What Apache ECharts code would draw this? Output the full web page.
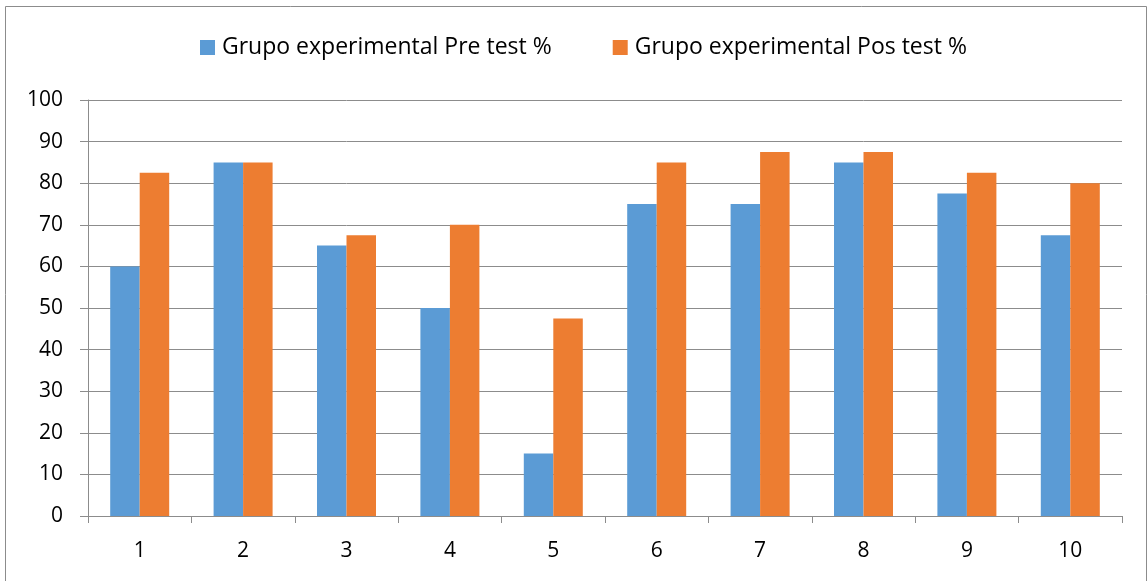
<!DOCTYPE html>
<html>
<head>
<meta charset="utf-8">
<script src="https://cdn.jsdelivr.net/npm/echarts@6/dist/echarts.min.js"></script>
<style>
  html, body { margin: 0; padding: 0; background: #fff; }
  #chart { width: 1147px; height: 581px; }
</style>
</head>
<body>
<div id="chart"></div>
<script>
const categories = ['1', '2', '3', '4', '5', '6', '7', '8', '9', '10'];
const preTest = [60, 85, 65, 50, 15, 75, 75, 85, 77.5, 67.5];
const posTest = [82.5, 85, 67.5, 70, 47.5, 85, 87.5, 87.5, 82.5, 80];
const seriesNames = ['Grupo experimental Pre test %', 'Grupo experimental Pos test %'];

const font = 'Open Sans';
const chart = echarts.init(document.getElementById('chart'));

chart.setOption({
  animation: false,
  backgroundColor: '#fff',
  graphic: [
    {
      type: 'rect',
      shape: { x: 5.5, y: 6.5, width: 1141, height: 580 },
      style: { fill: 'none', stroke: '#8c8c8c', lineWidth: 1 },
      silent: true,
    },
  ],
  legend: {
    top: 31,
    left: 195,
    itemWidth: 15,
    itemHeight: 15,
    itemGap: 61,
    icon: 'rect',
    textStyle: { fontFamily: font, fontSize: 23, color: '#000', padding: [0, 0, 0, 2] },
    data: seriesNames,
  },
  grid: {
    left: 88,
    right: 25,
    top: 100,
    bottom: 65,
    containLabel: false,
  },
  xAxis: {
    type: 'category',
    data: categories,
    boundaryGap: true,
    axisLine: { lineStyle: { color: '#8c8c8c', width: 1 } },
    axisTick: { show: true, alignWithLabel: false, length: 7, lineStyle: { color: '#8c8c8c' } },
    axisLabel: { fontFamily: font, fontSize: 21, color: '#000', margin: 25 },
  },
  yAxis: {
    type: 'value',
    min: 0,
    max: 100,
    interval: 10,
    axisLine: { show: true, lineStyle: { color: '#8c8c8c', width: 1 } },
    axisTick: { show: true, inside: false, length: 8, lineStyle: { color: '#8c8c8c' } },
    axisLabel: { fontFamily: font, fontSize: 21, color: '#000', margin: 25 },
    splitLine: { lineStyle: { color: '#8c8c8c', width: 1 } },
  },
  series: [
    {
      name: seriesNames[0],
      type: 'bar',
      data: preTest,
      barWidth: 29.5,
      barGap: '0%',
      itemStyle: { color: '#5b9bd5' },
    },
    {
      name: seriesNames[1],
      type: 'bar',
      data: posTest,
      barWidth: 29.5,
      barGap: '0%',
      itemStyle: { color: '#ed7d31' },
    },
  ],
});
</script>
</body>
</html>
